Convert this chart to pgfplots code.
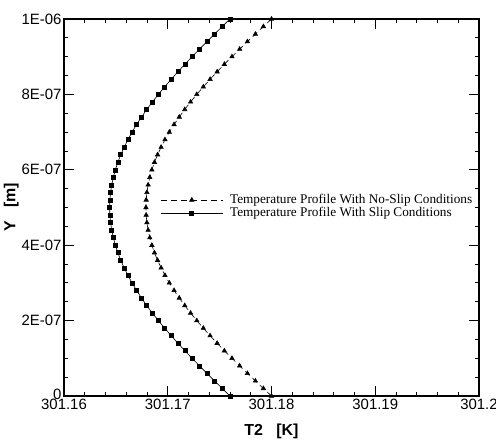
\documentclass[border=0pt]{standalone}
\usepackage{fontspec}
\setmainfont{Liberation Sans}
\newfontfamily\legfont{Liberation Serif}
\usepackage{pgfplots}
\usepackage{pgfplotstable}
\pgfplotsset{compat=1.18}

% y, slip (squares), no-slip (triangles)
\pgfplotstableread{
y        slip       noslip
0.00e-6  301.17600  301.18000
0.02e-6  301.17525  301.17922
0.04e-6  301.17451  301.17845
0.06e-6  301.17378  301.17768
0.08e-6  301.17306  301.17693
0.10e-6  301.17235  301.17619
0.12e-6  301.17165  301.17546
0.14e-6  301.17098  301.17476
0.16e-6  301.17033  301.17408
0.18e-6  301.16970  301.17343
0.20e-6  301.16910  301.17280
0.22e-6  301.16852  301.17220
0.24e-6  301.16798  301.17164
0.26e-6  301.16747  301.17111
0.28e-6  301.16700  301.17061
0.30e-6  301.16656  301.17015
0.32e-6  301.16616  301.16973
0.34e-6  301.16580  301.16936
0.36e-6  301.16547  301.16902
0.38e-6  301.16519  301.16872
0.40e-6  301.16495  301.16847
0.42e-6  301.16475  301.16827
0.44e-6  301.16460  301.16811
0.46e-6  301.16449  301.16799
0.48e-6  301.16442  301.16792
0.50e-6  301.16440  301.16790
0.52e-6  301.16442  301.16792
0.54e-6  301.16449  301.16799
0.56e-6  301.16460  301.16811
0.58e-6  301.16475  301.16827
0.60e-6  301.16495  301.16847
0.62e-6  301.16519  301.16872
0.64e-6  301.16547  301.16902
0.66e-6  301.16580  301.16936
0.68e-6  301.16616  301.16973
0.70e-6  301.16656  301.17015
0.72e-6  301.16700  301.17061
0.74e-6  301.16747  301.17111
0.76e-6  301.16798  301.17164
0.78e-6  301.16852  301.17220
0.80e-6  301.16910  301.17280
0.82e-6  301.16970  301.17343
0.84e-6  301.17033  301.17408
0.86e-6  301.17098  301.17476
0.88e-6  301.17165  301.17546
0.90e-6  301.17235  301.17619
0.92e-6  301.17306  301.17693
0.94e-6  301.17378  301.17768
0.96e-6  301.17451  301.17845
0.98e-6  301.17525  301.17922
1.00e-6  301.17600  301.18000
}\profiles

\begin{document}
\begin{tikzpicture}
\begin{axis}[
    name=ax,
    scale only axis,
    width=415bp, height=377bp,
    xmin=301.16, xmax=301.2,
    ymin=0, ymax=1e-6,
    xtick={301.16,301.17,301.18,301.19,301.2},
    xticklabels={301.16,301.17,301.18,301.19,301.2},
    ytick={0,2e-7,4e-7,6e-7,8e-7,1e-6},
    yticklabels={\raisebox{3bp}{0},2E-07,4E-07,6E-07,8E-07,1E-06},
    scaled ticks=false,
    minor x tick num=4,
    minor y tick num=3,
    tick align=inside,
    major tick length=10bp,
    minor tick length=4bp,
    axis line style={line width=1.6bp},
    every tick/.style={black, line width=0.9bp},
    tick label style={font=\fontsize{15}{17}\selectfont},
    yticklabel style={xshift=1bp},
    xlabel={\textbf{T2\ \ \ [K]}},
    ylabel={\textbf{Y\ \ \ [m]}},
    label style={font=\fontsize{16}{18}\selectfont},
    xlabel style={yshift=-7bp},
    ylabel style={yshift=-4bp},
    legend style={draw=none, fill=none, at={(rel axis cs:0.232,0.54)}, anchor=north west,
        font=\legfont\fontsize{13.3}{14}\selectfont, row sep=-2bp,
        inner sep=0pt},
    legend cell align=left,
    legend image code/.code={
        \draw[#1, mark repeat=2, mark phase=2] plot coordinates {(0bp,0bp) (31bp,0bp) (62bp,0bp)};
        \path (67bp,0bp);
    },
]
\addplot[black, line width=0.6bp, dash pattern=on 6bp off 4bp, mark=triangle*, mark size=2.5bp,
    mark options={solid}] table[x=noslip, y=y] {\profiles};
\addplot[black, line width=0.6bp, mark=square*, mark size=2bp] table[x=slip, y=y] {\profiles};
\legend{Temperature Profile With No-Slip Conditions, Temperature Profile With Slip Conditions}
\end{axis}
\pgfresetboundingbox
\path[use as bounding box] ([xshift=-64bp, yshift=-45bp]ax.south west) rectangle ([xshift=17bp, yshift=19bp]ax.north east);
\end{tikzpicture}
\end{document}
